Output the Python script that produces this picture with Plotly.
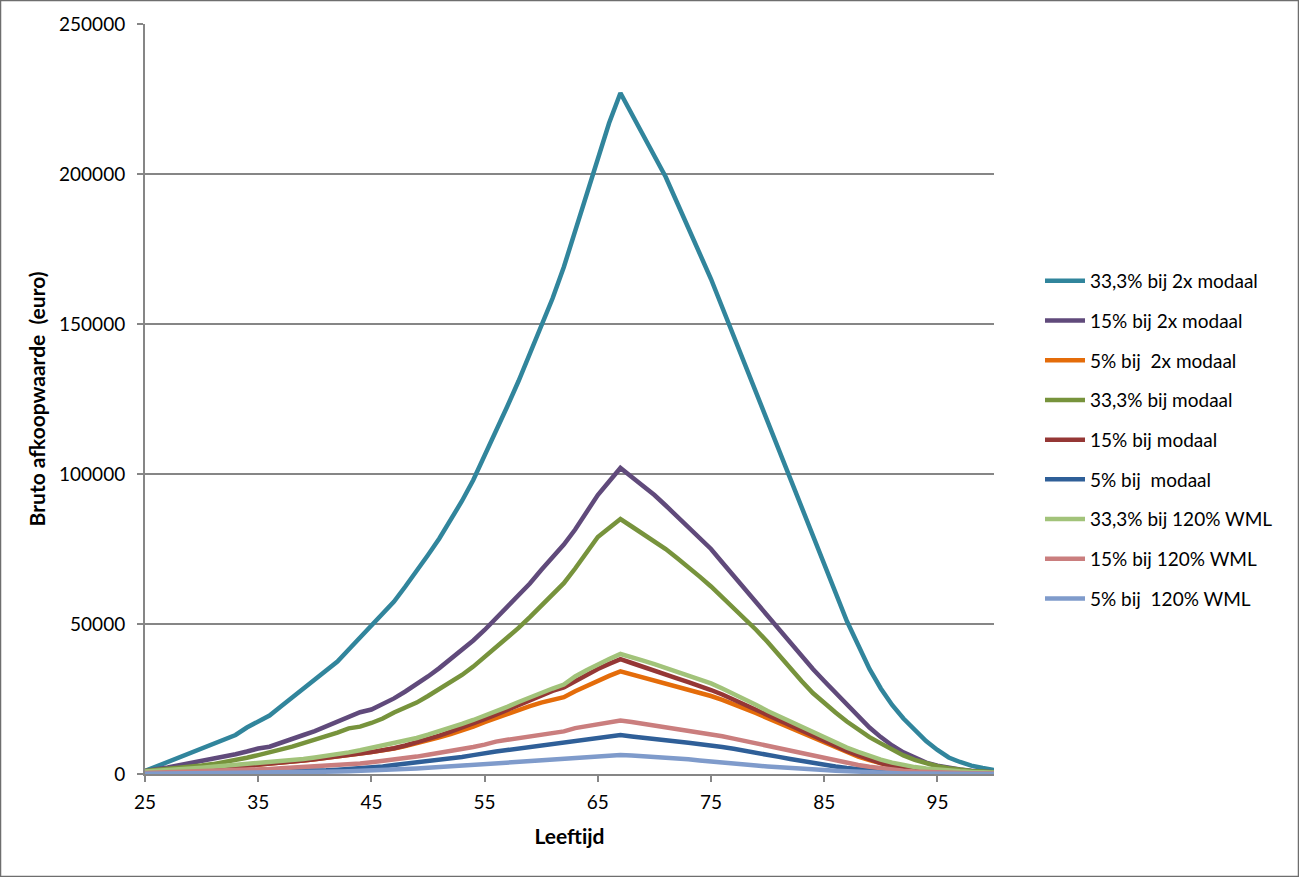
import plotly.graph_objects as go

ages = list(range(25, 101))

names = [
    "33,3% bij 2x modaal",
    "15% bij 2x modaal",
    "5% bij  2x modaal",
    "33,3% bij modaal",
    "15% bij modaal",
    "5% bij  modaal",
    "33,3% bij 120% WML",
    "15% bij 120% WML",
    "5% bij  120% WML",
]

s333_2x = [1000, 2500, 4000, 5500, 7000, 8500, 10000, 11500, 13000, 15500,
           17500, 19500, 22500, 25500, 28500, 31500, 34500, 37500, 41500, 45500,
           49000, 53500, 57500, 62500, 67500, 73000, 78500, 84500, 91000, 98000,
           106000, 114000, 122500, 131000, 140000, 149000, 158500, 169000, 181000, 193000,
           206000, 217000, 227000, 220000, 213000, 206000, 199000, 190500, 182000, 173500,
           165000, 155500, 146000, 137000, 127500, 118000, 108500, 99000, 89500, 79500,
           69500, 60000, 51000, 43000, 35000, 28500, 23000, 18500, 14500, 11000,
           8000, 5500, 4000, 2800, 2000, 1300]

s15_2x = [1000, 1500, 2200, 2900, 3600, 4300, 5000, 5800, 6600, 7500,
          8500, 9100, 10300, 11700, 13000, 14300, 15800, 17400, 19000, 20600,
          21500, 23200, 25200, 27500, 29900, 32500, 35300, 38300, 41300, 44500,
          48000, 51800, 55700, 59500, 63500, 68000, 72000, 76500, 81500, 87500,
          93000, 97500, 102000, 99000, 96000, 93000, 89500, 86000, 82500, 79000,
          75000, 70500, 66000, 62000, 57500, 52500, 48000, 43500, 39000, 35000,
          31000, 27000, 23000, 19000, 15500, 12300, 9500, 7200, 5300, 3800,
          2800, 2000, 1500, 1100, 800, 600]

s5_2x = [500, 600, 800, 1000, 1200, 1500, 1800, 2100, 2400, 2700,
         3000, 3300, 3700, 4100, 4500, 4900, 5300, 5800, 6300, 6800,
         7300, 7800, 8500, 9300, 10200, 11200, 12200, 13300, 14500, 15800,
         17300, 18700, 20000, 21300, 22600, 23800, 24800, 25600, 27600, 29400,
         31200, 32700, 34200, 33200, 32200, 31200, 30200, 29200, 28200, 27100,
         26000, 24700, 23300, 21800, 20300, 18600, 17000, 15300, 13600, 11900,
         10200, 8700, 7200, 5800, 4600, 3500, 2600, 1900, 1400, 1000,
         800, 600, 500, 400, 300, 200]

s333_m = [1000, 1300, 1700, 2100, 2500, 2800, 3300, 3900, 4600, 5400,
          6300, 7200, 8100, 9100, 10300, 11400, 12500, 13800, 15200, 15800,
          17000, 18500, 20500, 22200, 23800, 26000, 28200, 30500, 33000, 35800,
          39000, 42300, 45700, 48700, 52300, 56000, 60000, 63600, 68500, 74000,
          79000, 82000, 85000, 82500, 80000, 77500, 75000, 72000, 69000, 65800,
          62500, 59000, 55500, 52000, 48000, 44000, 39500, 35000, 31000, 27000,
          23600, 20500, 17500, 14800, 12300, 10200, 8000, 6200, 4700, 3500,
          2600, 1900, 1400, 1000, 800, 600]

s15_m = [500, 600, 800, 1000, 1200, 1500, 1800, 2100, 2400, 2700,
         3000, 3300, 3700, 4100, 4500, 4900, 5300, 5800, 6300, 6800,
         7300, 7900, 8600, 9500, 10500, 11600, 12800, 14100, 15400, 16800,
         18300, 19800, 21400, 23000, 24600, 26200, 27700, 28900, 31000, 33000,
         35000, 36700, 38300, 37000, 35800, 34500, 33200, 31900, 30600, 29400,
         28000, 26500, 24800, 23000, 21200, 19500, 17800, 16000, 14300, 12500,
         10800, 9200, 7700, 6300, 4900, 3600, 2700, 2000, 1500, 1100,
         800, 600, 500, 400, 300, 300]

s5_m = [100, 150, 200, 250, 300, 350, 400, 450, 500, 550,
        600, 700, 800, 900, 1000, 1100, 1250, 1450, 1650, 1850,
        2100, 2500, 3000, 3400, 3800, 4200, 4700, 5200, 5700, 6300,
        7000, 7500, 8000, 8500, 9000, 9500, 10000, 10700, 11200, 11700,
        12200, 12600, 13000, 12500, 12000, 11600, 11200, 10800, 10400, 10000,
        9500, 9000, 8400, 7800, 7100, 6400, 5700, 5000, 4300, 3600,
        3000, 2500, 2000, 1500, 1100, 800, 600, 400, 300, 200,
        150, 100, 100, 80, 60, 50]

s333_w = [800, 1000, 1200, 1500, 1800, 2100, 2400, 2700, 3000, 3300,
          3500, 3800, 4200, 4600, 5000, 5500, 6000, 6600, 7200, 7900,
          8700, 9400, 10200, 11100, 12000, 13100, 14200, 15400, 16700, 18000,
          19400, 20900, 22400, 24000, 25600, 27200, 28500, 29800, 32500, 34600,
          36600, 38300, 40000, 39000, 37800, 36600, 35300, 34000, 32800, 31500,
          30200, 28500, 26800, 25000, 23000, 21000, 19200, 17400, 15600, 13800,
          12000, 10400, 8800, 7400, 6000, 4800, 3800, 3000, 2300, 1800,
          1400, 1100, 900, 700, 600, 500]

s15_w = [300, 400, 500, 600, 700, 800, 950, 1100, 1250, 1400,
         1550, 1700, 1900, 2100, 2300, 2500, 2700, 2950, 3200, 3500,
         3900, 4300, 4800, 5300, 5800, 6400, 7000, 7600, 8300, 9000,
         9800, 10800, 11400, 12000, 12500, 13000, 13700, 14200, 15300, 16000,
         16700, 17300, 17800, 17300, 16700, 16200, 15600, 15000, 14500, 14000,
         13300, 12600, 11800, 11000, 10200, 9300, 8500, 7700, 6900, 6000,
         5200, 4400, 3700, 3000, 2400, 1900, 1400, 1100, 800, 600,
         500, 400, 300, 250, 200, 150]

s5_w = [100, 120, 140, 160, 180, 200, 230, 260, 300, 340,
        380, 420, 470, 520, 580, 650, 720, 800, 900, 1000,
        1150, 1300, 1450, 1650, 1850, 2050, 2300, 2550, 2800, 3100,
        3400, 3700, 3900, 4100, 4300, 4500, 4800, 5100, 5400, 5700,
        6000, 6200, 6300, 6200, 6000, 5800, 5500, 5200, 4900, 4500,
        4100, 3700, 3400, 3100, 2800, 2500, 2200, 1900, 1700, 1500,
        1300, 1100, 900, 700, 500, 300, 250, 200, 150, 100,
        80, 60, 50, 40, 30, 20]

series = [s333_2x, s15_2x, s5_2x, s333_m, s15_m, s5_m, s333_w, s15_w, s5_w]
colors = ["#31859C", "#604A7B", "#E46C0A", "#77933C", "#953735",
          "#2F5F98", "#A2C37A", "#CA7E7E", "#7F9BCB"]

x_ticks = [25, 35, 45, 55, 65, 75, 85, 95]
y_ticks = [0, 50000, 100000, 150000, 200000, 250000]

fig = go.Figure()
for i, (nm, ys, c) in enumerate(zip(names, series, colors)):
    fig.add_trace(go.Scatter(x=ages, y=ys, name=nm, mode="lines",
                             line=dict(color=c, width=4.5),
                             legendgroup=f"g{i}"))

W, H = 1299, 877
L, R, T, B = 145, 305, 24, 103
pw, ph = W - L - R, H - T - B

fig.update_layout(
    width=W, height=H,
    margin=dict(l=L, r=R, t=T, b=B),
    paper_bgcolor="white", plot_bgcolor="white",
    font=dict(family="Lato", size=19, color="black"),
    showlegend=True,
    legend=dict(x=(1040 - L) / pw, y=(774 - 262) / ph, xanchor="left", yanchor="top",
                font=dict(size=19), tracegroupgap=12, bgcolor="rgba(0,0,0,0)",
                itemwidth=40),
    shapes=[dict(type="rect", xref="paper", yref="paper",
                 x0=(0.5 - L) / pw, x1=(W - 0.5 - L) / pw,
                 y0=(774 - (H - 0.5)) / ph, y1=(774 - 0.5) / ph,
                 line=dict(color="#6e6e6e", width=1.5))],
)

fig.update_xaxes(range=[25, 100], tickvals=x_ticks, ticktext=[str(v) for v in x_ticks],
                 showgrid=False, zeroline=False, showline=True, linecolor="#868686",
                 linewidth=2, ticks="outside", ticklen=6, tickwidth=2, tickcolor="#868686",
                 tickfont=dict(size=19), ticklabelstandoff=4,
                 title=dict(text="<b>Leeftijd</b>", font=dict(size=21), standoff=18))
fig.update_yaxes(range=[0, 250000], tickvals=y_ticks, ticktext=[str(v) for v in y_ticks],
                 showgrid=True, gridcolor="#868686", gridwidth=2, zeroline=False,
                 showline=True, linecolor="#868686", linewidth=2,
                 ticks="outside", ticklen=6, tickwidth=2, tickcolor="#868686",
                 tickfont=dict(size=19), ticklabelstandoff=8,
                 title=dict(text="<b>Bruto afkoopwaarde  (euro)</b>", font=dict(size=21), standoff=8))

fig.write_html("out.html")
